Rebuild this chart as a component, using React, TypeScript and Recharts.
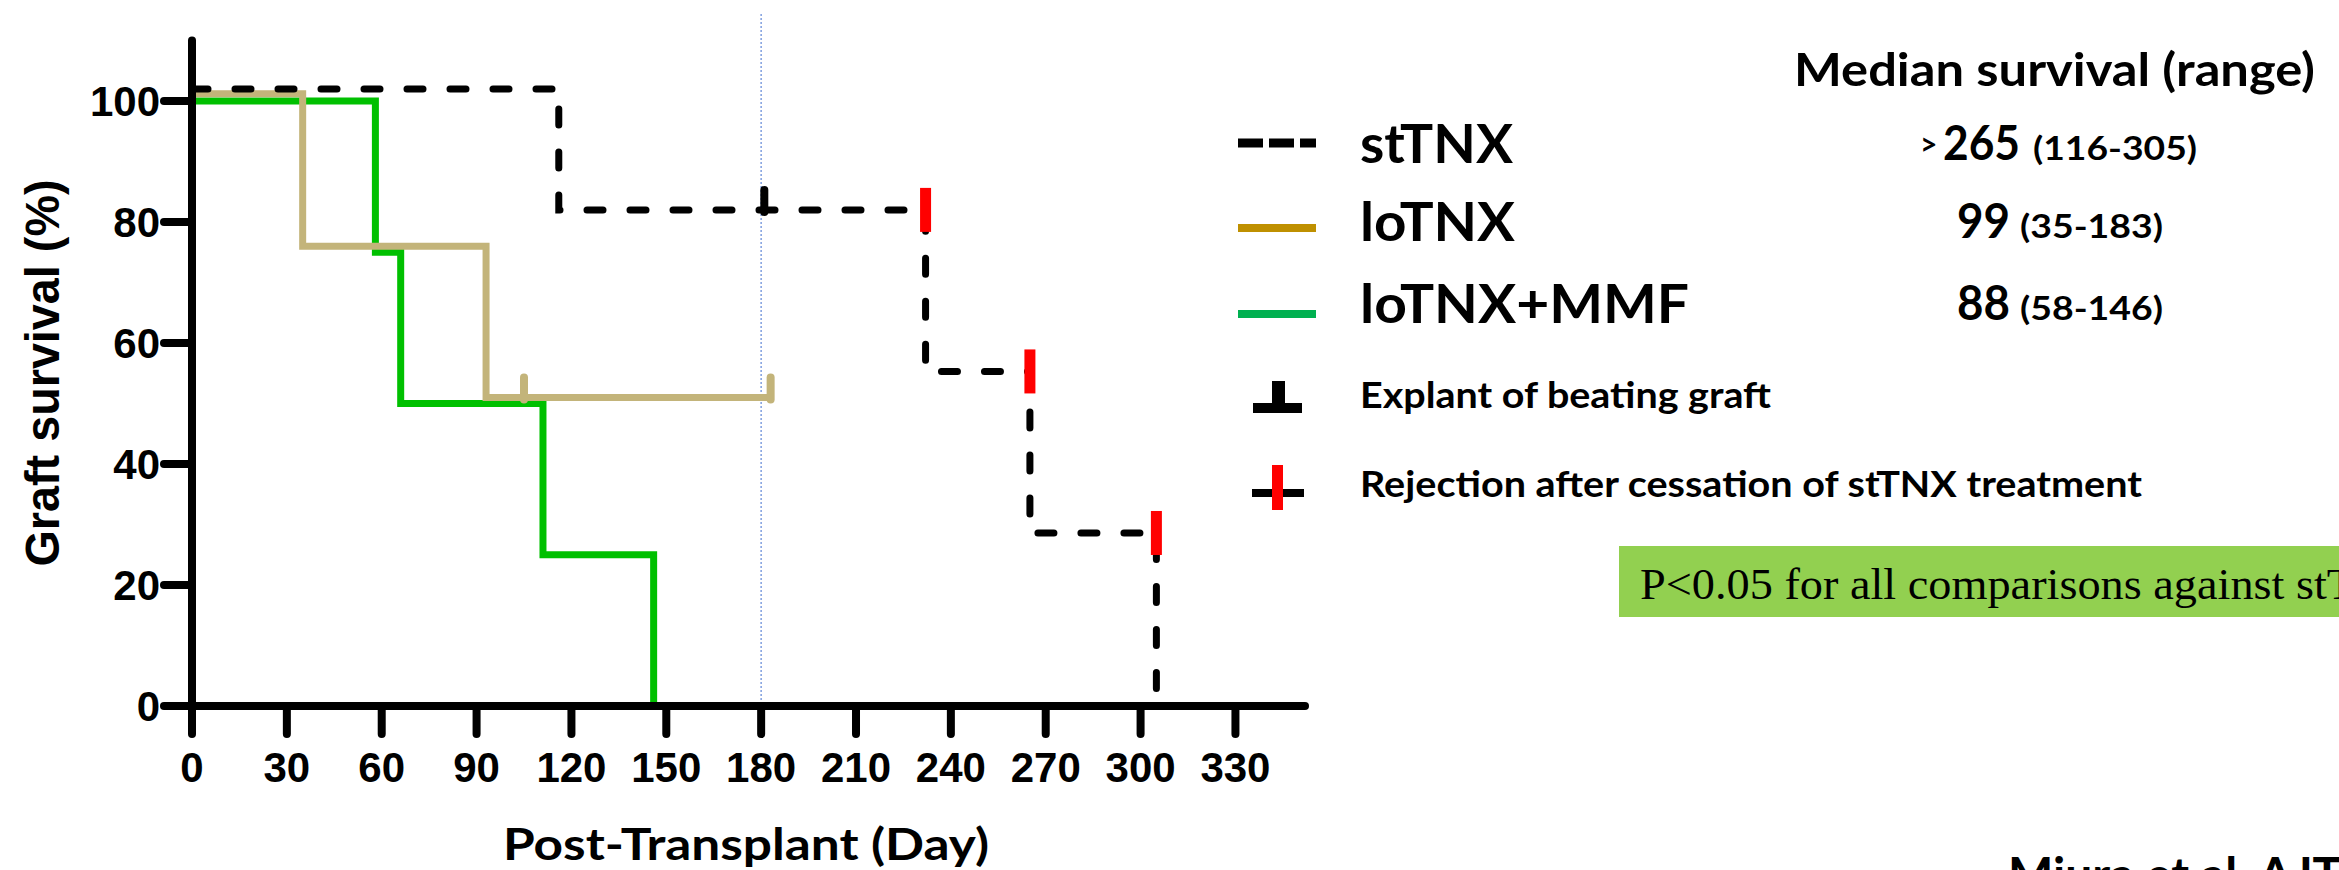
import { ComposedChart, Line, ReferenceLine, XAxis, YAxis } from "recharts";

const ARIAL = "'Liberation Sans', Arial, sans-serif";
const SANS = "Lato, 'Open Sans', sans-serif";
const SERIF = "'Liberation Serif', 'Times New Roman', serif";

// axis ticks
const X_TICKS = [0, 30, 60, 90, 120, 150, 180, 210, 240, 270, 300, 330];
const Y_TICKS = [0, 20, 40, 60, 80, 100];
const X_MAX = 352;
const Y_MAX = 110;
const MARK_DAY = 180;

// Kaplan-Meier steps (GraphPad nudges overlapping curves a little upwards)
const ST_DAYS = [0, 116, 232, 265, 305];
const ST_PCT = [102, 82, 55.3, 28.6, 0];
const LO_DAYS = [0, 35, 93, 183];
const LO_PCT = [101.2, 76, 51, 51];
const MMF_DAYS = [0, 58, 66, 111, 146];
const MMF_PCT = [100, 75, 50, 25, 0];

// markers on the curves
const EXPLANT_DAYS = [181];
const EXPLANT_PCT = [82];
const REJECT_DAYS = [232, 265, 305];
const REJECT_PCT = [82, 55.3, 28.6];
const LO_CENSOR_DAYS = [105, 183];
const LO_CENSOR_PCT = [51, 51];

// legend + median table
const GROUPS = ["stTNX", "loTNX", "loTNX+MMF"];
const MEDIANS = ["265", "99", "88"];
const RANGES = ["(116-305)", "(35-183)", "(58-146)"];

const toPoints = (days: number[], pct: number[]) =>
  days.map((day, i) => ({ day, pct: pct[i] }));

const stData = toPoints(ST_DAYS, ST_PCT);
const loData = toPoints(LO_DAYS, LO_PCT);
const mmfData = toPoints(MMF_DAYS, MMF_PCT);
const explantData = toPoints(EXPLANT_DAYS, EXPLANT_PCT);
const rejectData = toPoints(REJECT_DAYS, REJECT_PCT);
const loCensorData = toPoints(LO_CENSOR_DAYS, LO_CENSOR_PCT);

const upTick = (color: string, name: string) => (props: any) => {
  const { cx, cy, index } = props;
  return (
    <line
      key={`${name}-${index}`}
      x1={cx}
      y1={cy + 2}
      x2={cx}
      y2={cy - 20}
      stroke={color}
      strokeWidth={8}
      strokeLinecap="round"
    />
  );
};

const redBar = (props: any) => {
  const { cx, cy, index } = props;
  return <rect key={`rej-${index}`} x={cx - 5.5} y={cy - 22} width={11} height={44} fill="#ff0000" />;
};

const tickStyle = { fill: "#000", fontSize: 42, fontWeight: 700, fontFamily: ARIAL };
const axisStroke = { stroke: "#000", strokeWidth: 8, strokeLinecap: "round" as const };

const LEGEND_Y = [163, 241, 323];
const LEGEND_TEXT_W = [153, 155, 329];
const MEDIAN_X = [1943, 1957, 1957];
const MEDIAN_W = [77, 53, 53];
const RANGE_X = [2033, 2020, 2020];
const RANGE_W = [164, 143, 143];

function Annotations() {
  return (
    <svg
      width={2339}
      height={870}
      style={{ position: "absolute", left: 0, top: 0, pointerEvents: "none" }}
    >
      {/* axis titles */}
      <text
        transform="translate(59, 373) rotate(-90)"
        textAnchor="middle"
        fontFamily={ARIAL}
        fontWeight={700}
        fontSize={48}
        textLength={387}
        lengthAdjust="spacingAndGlyphs"
      >
        Graft survival (%)
      </text>
      <text
        x={746}
        y={860}
        textAnchor="middle"
        fontFamily={SANS}
        fontWeight={700}
        fontSize={44}
        textLength={486}
        lengthAdjust="spacingAndGlyphs"
      >
        Post-Transplant (Day)
      </text>

      {/* legend samples */}
      <line x1={1238} x2={1316} y1={143} y2={143} stroke="#000" strokeWidth={9} strokeDasharray="25 6" />
      <line x1={1238} x2={1316} y1={228} y2={228} stroke="#bf9000" strokeWidth={8} />
      <line x1={1238} x2={1316} y1={314} y2={314} stroke="#00b050" strokeWidth={8} />
      <rect x={1272} y={381} width={13} height={24} fill="#000" />
      <rect x={1253} y={403} width={49} height={10} fill="#000" />
      <rect x={1252} y={489} width={52} height={8} fill="#000" />
      <rect x={1272} y={465} width={11} height={45} fill="#ff0000" />

      {GROUPS.map((g, i) => (
        <text
          key={g}
          x={1360}
          y={LEGEND_Y[i]}
          fontFamily={SANS}
          fontWeight={700}
          fontSize={54}
          textLength={LEGEND_TEXT_W[i]}
          lengthAdjust="spacingAndGlyphs"
        >
          {g}
        </text>
      ))}
      <text x={1360} y={408} fontFamily={SANS} fontWeight={700} fontSize={36} textLength={411} lengthAdjust="spacingAndGlyphs">
        Explant of beating graft
      </text>
      <text x={1360} y={497} fontFamily={SANS} fontWeight={700} fontSize={36} textLength={782} lengthAdjust="spacingAndGlyphs">
        Rejection after cessation of stTNX treatment
      </text>

      {/* median survival table */}
      <text x={1794} y={86} fontFamily={SANS} fontWeight={700} fontSize={46} textLength={521} lengthAdjust="spacingAndGlyphs">
        Median survival (range)
      </text>
      <text x={1920} y={155} fontFamily={SANS} fontWeight={700} fontSize={30}>
        {">"}
      </text>
      {MEDIANS.map((m, i) => (
        <g key={m}>
          <text
            x={MEDIAN_X[i]}
            y={LEGEND_Y[i] - 3}
            fontFamily={SANS}
            fontWeight={700}
            fontSize={47}
            textLength={MEDIAN_W[i]}
            lengthAdjust="spacingAndGlyphs"
          >
            {m}
          </text>
          <text
            x={RANGE_X[i]}
            y={LEGEND_Y[i] - 3}
            fontFamily={SANS}
            fontWeight={700}
            fontSize={33}
            textLength={RANGE_W[i]}
            lengthAdjust="spacingAndGlyphs"
          >
            {RANGES[i]}
          </text>
        </g>
      ))}

      {/* p-value box */}
      <rect x={1619} y={546} width={760} height={71} fill="#92d050" />
      <text x={1640} y={599} fontFamily={SERIF} fontSize={44} textLength={782} lengthAdjust="spacingAndGlyphs">
        {"P<0.05 for all comparisons against stTNX"}
      </text>

      <text x={2008} y={892} fontFamily={SANS} fontWeight={700} fontSize={48}>
        Miura et al. AJT
      </text>
    </svg>
  );
}

export default function App() {
  return (
    <div style={{ position: "relative", width: 2339, height: 870, background: "#fff", overflow: "hidden" }}>
      <style>{"body{margin:0}"}</style>
      <ComposedChart width={2339} height={870} margin={{ top: 40.5, right: 1034, bottom: 44, left: 92 }}>
        <XAxis
          type="number"
          dataKey="day"
          domain={[0, X_MAX]}
          ticks={X_TICKS}
          interval={0}
          height={120}
          tickSize={28}
          tickMargin={18}
          tick={tickStyle}
          tickLine={axisStroke}
          axisLine={axisStroke}
        />
        <YAxis
          type="number"
          dataKey="pct"
          domain={[0, Y_MAX]}
          ticks={Y_TICKS}
          interval={0}
          width={100}
          tickSize={28}
          tickMargin={4}
          tick={tickStyle}
          tickLine={axisStroke}
          axisLine={axisStroke}
        />
        <ReferenceLine
          segment={[
            { x: MARK_DAY, y: -1 },
            { x: MARK_DAY, y: 114.5 },
          ]}
          ifOverflow="visible"
          stroke="#7f9fdf"
          strokeWidth={1.5}
          strokeDasharray="2 2"
        />
        <Line
          data={mmfData}
          dataKey="pct"
          type="stepAfter"
          stroke="#00c000"
          strokeWidth={7}
          dot={false}
          activeDot={false}
          isAnimationActive={false}
        />
        <Line
          data={loData}
          dataKey="pct"
          type="stepAfter"
          stroke="#c3b47a"
          strokeWidth={7}
          dot={false}
          activeDot={false}
          isAnimationActive={false}
        />
        <Line
          data={loCensorData}
          dataKey="pct"
          stroke="none"
          dot={upTick("#c3b47a", "lo")}
          activeDot={false}
          isAnimationActive={false}
        />
        <Line
          data={stData}
          dataKey="pct"
          type="stepAfter"
          stroke="#000"
          strokeWidth={7}
          strokeDasharray="16 27"
          strokeLinecap="round"
          dot={false}
          activeDot={false}
          isAnimationActive={false}
        />
        <Line
          data={explantData}
          dataKey="pct"
          stroke="none"
          dot={upTick("#000", "ex")}
          activeDot={false}
          isAnimationActive={false}
        />
        <Line
          data={rejectData}
          dataKey="pct"
          stroke="none"
          dot={redBar}
          activeDot={false}
          isAnimationActive={false}
        />
      </ComposedChart>
      <Annotations />
    </div>
  );
}
